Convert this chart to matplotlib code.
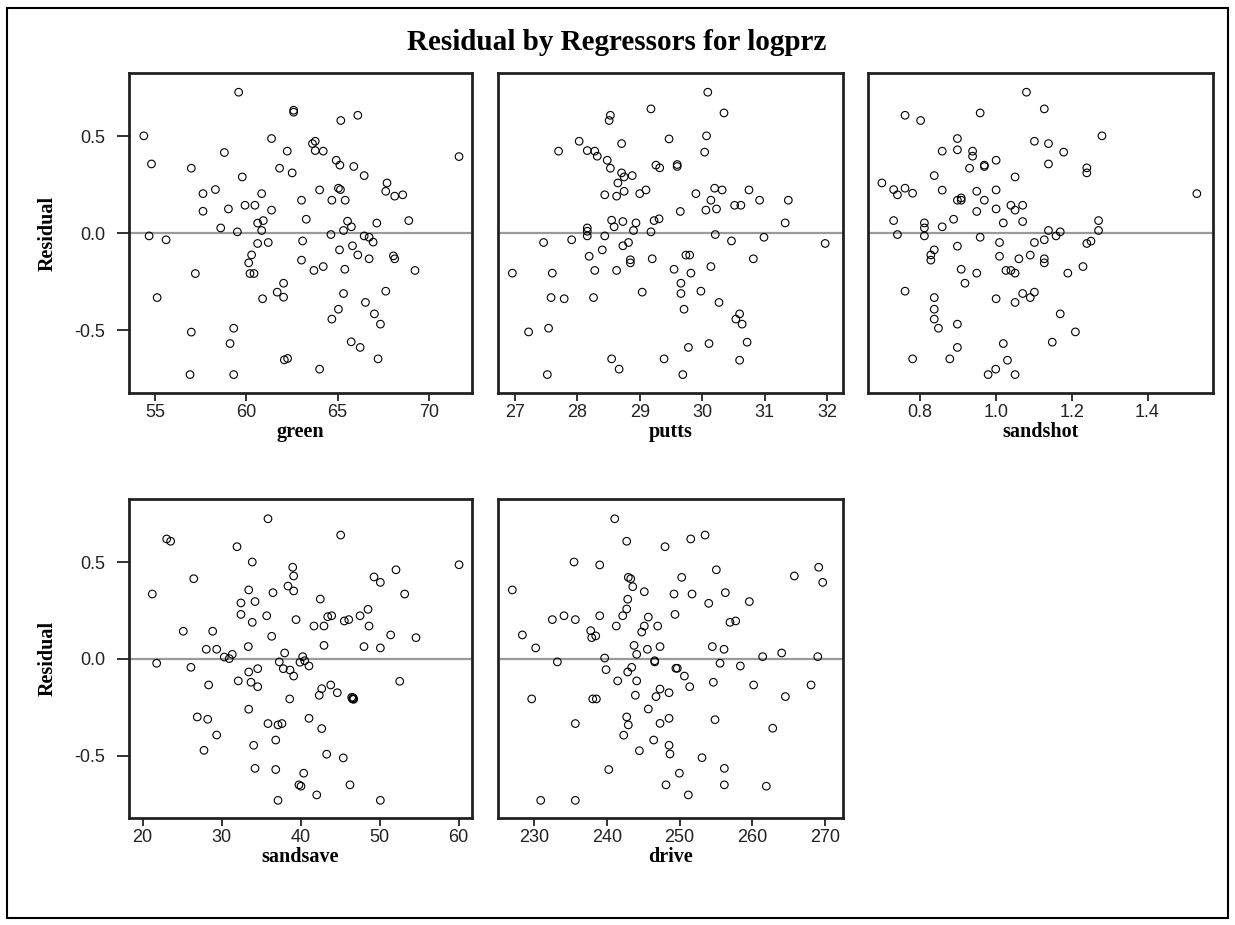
import matplotlib
matplotlib.use("Agg")
import matplotlib.pyplot as plt
from matplotlib.patches import Rectangle

plt.rcParams['axes.unicode_minus'] = False

# ---------------- data: (regressor value, residual) ----------------
title = "Residual by Regressors for logprz"

green_pts = [
    (59.58, 0.727), (62.59, 0.634), (62.59, 0.624), (54.39, 0.502), (61.38, 0.488),
    (62.24, 0.423), (58.80, 0.416), (54.81, 0.357), (56.99, 0.335), (61.82, 0.335),
    (62.51, 0.311), (59.78, 0.290), (58.31, 0.225), (57.63, 0.204), (60.84, 0.204),
    (57.63, 0.113), (59.02, 0.125), (59.93, 0.144), (60.47, 0.144), (61.38, 0.119),
    (60.62, 0.052), (60.93, 0.065), (58.60, 0.027), (59.51, 0.007), (60.84, 0.014),
    (54.68, -0.014), (55.61, -0.034), (60.62, -0.053), (61.20, -0.048), (60.29, -0.112),
    (60.13, -0.153), (60.20, -0.208), (60.42, -0.208), (57.21, -0.208), (62.04, -0.258),
    (61.69, -0.304), (62.04, -0.330), (60.89, -0.338), (55.12, -0.332), (56.99, -0.510),
    (59.31, -0.490), (59.11, -0.569), (62.08, -0.653), (62.26, -0.646), (56.92, -0.729),
    (59.31, -0.729),
    (65.17, 0.581), (66.10, 0.608), (63.62, 0.462), (63.77, 0.474), (63.77, 0.426),
    (64.21, 0.423), (64.92, 0.376), (65.12, 0.351), (65.88, 0.344), (66.45, 0.297),
    (71.64, 0.395), (67.70, 0.259), (67.63, 0.216), (68.12, 0.191), (68.56, 0.198),
    (64.01, 0.223), (65.04, 0.232), (65.15, 0.225), (63.02, 0.170), (64.68, 0.170),
    (65.41, 0.170), (63.28, 0.072), (68.89, 0.065), (67.14, 0.052), (65.54, 0.062),
    (65.75, 0.033), (65.32, 0.014), (64.63, -0.007), (66.45, -0.014), (66.72, -0.021),
    (66.94, -0.046), (63.08, -0.040), (65.10, -0.086), (65.81, -0.065), (66.10, -0.112),
    (66.72, -0.132), (68.05, -0.117), (68.12, -0.132), (63.02, -0.139), (63.70, -0.192),
    (64.21, -0.172), (65.39, -0.186), (69.23, -0.192), (65.32, -0.311), (67.63, -0.299),
    (65.04, -0.392), (64.68, -0.443), (66.52, -0.357), (67.01, -0.416), (67.34, -0.469),
    (65.74, -0.560), (66.23, -0.589), (67.21, -0.648), (64.01, -0.701),
]

putts_pts = [
    (29.18, 0.641), (28.53, 0.608), (28.51, 0.581), (28.03, 0.474), (28.71, 0.462),
    (27.70, 0.423), (28.16, 0.426), (28.28, 0.423), (28.32, 0.397), (28.48, 0.376),
    (28.53, 0.335), (29.26, 0.351), (29.32, 0.337), (28.71, 0.311), (28.75, 0.290),
    (28.88, 0.297), (28.65, 0.259), (28.75, 0.216), (28.44, 0.198), (28.63, 0.191),
    (29.00, 0.204), (29.10, 0.223), (28.55, 0.067), (28.73, 0.060), (28.94, 0.053),
    (29.23, 0.065), (29.31, 0.074), (28.59, 0.033), (28.16, 0.027), (28.16, 0.010),
    (28.16, -0.014), (28.90, 0.014), (29.18, 0.007), (28.44, -0.014), (27.46, -0.048),
    (27.91, -0.034), (28.73, -0.065), (28.82, -0.048), (28.40, -0.086), (28.19, -0.119),
    (28.85, -0.137), (28.85, -0.153), (29.20, -0.132), (26.96, -0.206), (27.60, -0.206),
    (28.28, -0.192), (28.63, -0.192), (29.04, -0.304), (27.58, -0.332), (27.79, -0.338),
    (28.26, -0.332), (27.22, -0.509), (27.54, -0.490), (28.55, -0.648), (28.67, -0.701),
    (27.52, -0.729),
    (30.09, 0.727), (30.35, 0.620), (29.47, 0.486), (30.07, 0.502), (30.04, 0.418),
    (29.60, 0.354), (29.60, 0.344), (29.90, 0.204), (30.20, 0.232), (30.32, 0.223),
    (30.75, 0.223), (30.14, 0.170), (30.92, 0.170), (31.38, 0.170), (29.65, 0.112),
    (30.06, 0.119), (30.23, 0.125), (30.52, 0.144), (30.62, 0.144), (31.33, 0.053),
    (30.21, -0.007), (30.47, -0.040), (30.99, -0.021), (31.97, -0.053), (29.74, -0.113),
    (29.80, -0.113), (30.82, -0.132), (29.55, -0.186), (29.82, -0.206), (30.14, -0.172),
    (29.66, -0.258), (29.66, -0.311), (29.98, -0.299), (29.71, -0.392), (30.27, -0.357),
    (30.60, -0.416), (30.54, -0.443), (30.64, -0.469), (29.78, -0.589), (30.11, -0.569),
    (30.72, -0.562), (29.39, -0.648), (30.60, -0.655), (29.69, -0.729),
]

sandshot_pts = [
    (1.081, 0.727), (0.761, 0.608), (0.802, 0.581), (0.959, 0.620), (0.899, 0.488),
    (0.899, 0.430), (0.859, 0.423), (0.939, 0.423), (0.939, 0.397), (1.001, 0.376),
    (0.970, 0.351), (0.970, 0.344), (0.931, 0.335), (0.838, 0.297), (1.051, 0.290),
    (0.700, 0.259), (0.731, 0.225), (0.741, 0.198), (0.761, 0.232), (0.781, 0.206),
    (0.859, 0.222), (0.899, 0.170), (0.909, 0.182), (0.909, 0.170), (0.950, 0.216),
    (1.001, 0.223), (0.970, 0.170), (0.950, 0.112), (1.001, 0.125), (1.040, 0.144),
    (1.051, 0.119), (1.071, 0.144), (0.731, 0.065), (0.812, 0.053), (0.812, 0.027),
    (0.812, -0.014), (0.859, 0.033), (0.889, 0.072), (1.020, 0.053), (1.071, 0.060),
    (0.741, -0.007), (0.959, -0.021), (1.010, -0.048), (0.899, -0.067), (0.838, -0.086),
    (0.829, -0.112), (0.829, -0.139), (1.010, -0.119), (1.061, -0.132), (1.091, -0.113),
    (0.909, -0.186), (0.950, -0.206), (1.027, -0.192), (1.040, -0.192), (1.051, -0.206),
    (0.919, -0.258), (0.761, -0.299), (0.838, -0.332), (0.838, -0.392), (0.838, -0.443),
    (0.849, -0.490), (1.001, -0.338), (1.051, -0.357), (1.071, -0.311), (1.091, -0.332),
    (0.899, -0.469), (0.899, -0.589), (0.781, -0.648), (0.879, -0.648), (1.020, -0.569),
    (1.031, -0.655), (0.980, -0.729), (1.000, -0.701), (1.051, -0.729),
    (1.128, 0.641), (1.102, 0.474), (1.139, 0.462), (1.280, 0.502), (1.179, 0.418),
    (1.139, 0.357), (1.240, 0.337), (1.240, 0.311), (1.530, 0.204), (1.271, 0.065),
    (1.271, 0.014), (1.139, 0.014), (1.159, -0.014), (1.170, 0.007), (1.102, -0.048),
    (1.128, -0.034), (1.240, -0.053), (1.251, -0.041), (1.128, -0.132), (1.128, -0.153),
    (1.190, -0.206), (1.230, -0.172), (1.102, -0.304), (1.170, -0.416), (1.210, -0.509),
    (1.149, -0.562),
]

sandsave_pts = [
    (35.86, 0.723), (23.04, 0.619), (23.54, 0.607), (31.94, 0.579), (33.87, 0.500),
    (26.46, 0.414), (21.22, 0.335), (33.42, 0.356), (36.49, 0.342), (32.44, 0.289),
    (34.22, 0.296), (32.44, 0.230), (33.87, 0.189), (35.70, 0.223), (38.39, 0.376),
    (25.14, 0.143), (28.86, 0.143), (36.33, 0.117), (28.05, 0.050), (29.37, 0.050),
    (33.37, 0.064), (30.33, 0.010), (30.96, 0.002), (31.34, 0.024), (37.97, 0.031),
    (21.77, -0.022), (26.11, -0.043), (37.29, -0.015), (37.80, -0.050), (38.65, -0.057),
    (33.42, -0.067), (34.56, -0.050), (32.10, -0.113), (33.71, -0.120), (34.56, -0.143),
    (28.35, -0.134), (38.61, -0.206), (33.42, -0.259), (26.91, -0.299), (28.23, -0.311),
    (35.86, -0.333), (37.13, -0.340), (37.63, -0.333), (29.37, -0.392), (34.05, -0.445),
    (36.84, -0.418), (27.76, -0.471), (34.22, -0.564), (36.84, -0.570), (37.13, -0.729),
    (38.99, 0.473), (39.11, 0.428), (39.11, 0.351), (39.41, 0.203), (39.11, -0.088),
    (45.06, 0.639), (60.04, 0.486), (52.06, 0.460), (49.28, 0.423), (50.08, 0.395),
    (53.16, 0.335), (42.48, 0.309), (43.42, 0.218), (43.92, 0.223), (41.68, 0.170),
    (42.95, 0.170), (45.52, 0.196), (46.08, 0.203), (47.51, 0.223), (48.52, 0.256),
    (48.65, 0.170), (51.39, 0.124), (54.59, 0.110), (42.95, 0.070), (48.01, 0.064),
    (50.08, 0.057), (40.25, 0.012), (39.91, -0.017), (40.51, -0.009), (41.05, -0.036),
    (52.53, -0.115), (42.66, -0.153), (42.35, -0.187), (43.80, -0.134), (44.63, -0.174),
    (46.45, -0.198), (46.55, -0.206), (46.65, -0.200), (46.70, -0.208), (41.05, -0.306),
    (42.66, -0.359), (43.29, -0.491), (45.39, -0.510), (40.38, -0.589), (39.78, -0.649),
    (40.04, -0.656), (42.03, -0.701), (46.24, -0.649), (50.08, -0.729),
]

drive_pts = [
    (241.09, 0.723), (242.74, 0.607), (235.50, 0.500), (239.03, 0.485), (227.02, 0.356),
    (242.96, 0.421), (243.29, 0.414), (243.57, 0.373), (245.16, 0.347), (242.88, 0.308),
    (242.74, 0.258), (232.52, 0.203), (234.12, 0.223), (235.68, 0.203), (239.03, 0.223),
    (242.19, 0.223), (245.71, 0.216), (241.31, 0.170), (245.16, 0.170), (244.80, 0.139),
    (247.00, 0.170), (228.40, 0.124), (237.79, 0.146), (237.93, 0.110), (238.48, 0.119),
    (230.23, 0.057), (243.75, 0.070), (244.11, 0.024), (245.58, 0.050), (247.32, 0.064),
    (233.21, -0.015), (239.71, 0.005), (239.90, -0.055), (246.59, -0.009), (246.59, -0.015),
    (242.88, -0.067), (243.43, -0.043), (241.50, -0.113), (244.11, -0.113), (243.93, -0.187),
    (229.68, -0.206), (238.07, -0.206), (238.57, -0.206), (246.77, -0.194), (247.32, -0.155),
    (245.71, -0.258), (235.68, -0.333), (242.74, -0.299), (242.96, -0.340), (242.33, -0.393),
    (247.32, -0.332), (246.45, -0.418), (244.48, -0.473), (240.27, -0.570), (230.92, -0.729),
    (235.68, -0.729),
    (248.01, 0.579), (251.54, 0.619), (253.51, 0.639), (255.06, 0.460), (250.30, 0.421),
    (265.78, 0.428), (269.13, 0.473), (269.68, 0.395), (249.24, 0.335), (251.72, 0.335),
    (254.01, 0.287), (256.30, 0.342), (259.60, 0.296), (249.38, 0.230), (256.94, 0.189),
    (257.72, 0.196), (254.51, 0.064), (256.12, 0.050), (261.43, 0.012), (264.04, 0.031),
    (269.00, 0.012), (249.50, -0.048), (249.70, -0.048), (250.67, -0.088), (251.40, -0.143),
    (255.57, -0.022), (258.36, -0.036), (254.65, -0.120), (260.19, -0.134), (268.08, -0.134),
    (264.55, -0.194), (248.56, -0.174), (248.56, -0.306), (254.88, -0.313), (262.81, -0.357),
    (248.56, -0.445), (248.69, -0.490), (253.09, -0.509), (256.16, -0.564), (249.98, -0.589),
    (248.14, -0.649), (256.16, -0.649), (261.93, -0.656), (251.21, -0.701),
]

green_ticks = [55, 60, 65, 70]
putts_ticks = [27, 28, 29, 30, 31, 32]
sandshot_ticks = [0.8, 1.0, 1.2, 1.4]
sandshot_ticklabels = ["0.8", "1.0", "1.2", "1.4"]
sandsave_ticks = [20, 30, 40, 50, 60]
drive_ticks = [230, 240, 250, 260, 270]
resid_ticks = [-0.5, 0.0, 0.5]
resid_ticklabels = ["-0.5", "0.0", "0.5"]

# ---------------- layout (pixels) ----------------
W, H = 1235, 925
fig = plt.figure(figsize=(W / 100, H / 100), dpi=100)
fig.patch.set_facecolor("white")

SERIF = ["Liberation Serif", "DejaVu Serif"]
TICKFONT = ["Liberation Sans Narrow", "Liberation Sans", "DejaVu Sans"]

def add_ax(x0, y0, x1, y1):
    return fig.add_axes([x0 / W, 1 - y1 / H, (x1 - x0) / W, (y1 - y0) / H])

panels = [
    ("green", green_pts, (129, 73, 472, 393), (53.58, 72.35), green_ticks, None, (-0.824, 0.826), True),
    ("putts", putts_pts, (498, 73, 843, 393), (26.73, 32.256), putts_ticks, None, (-0.824, 0.826), False),
    ("sandshot", sandshot_pts, (868, 73, 1213, 393), (0.6634, 1.5726), sandshot_ticks, sandshot_ticklabels, (-0.824, 0.826), False),
    ("sandsave", sandsave_pts, (129, 499, 472, 818), (18.27, 61.68), sandsave_ticks, None, (-0.820, 0.825), True),
    ("drive", drive_pts, (498, 499, 843, 818), (225.05, 272.47), drive_ticks, None, (-0.820, 0.825), False),
]

for name, pts, box, xlim, xt, xtl, ylim, show_y in panels:
    ax = add_ax(*box)
    xs = [p[0] for p in pts]
    ys = [p[1] for p in pts]
    ax.axhline(0, color="#9a9a9a", lw=1.6, zorder=1)
    ax.scatter(xs, ys, s=30, facecolors="none", edgecolors="black", linewidths=0.8, zorder=3)
    ax.set_xlim(*xlim)
    ax.set_ylim(*ylim)
    ax.set_xticks(xt)
    if xtl is not None:
        ax.set_xticklabels(xtl)
    else:
        ax.set_xticklabels([str(v) for v in xt])
    for sp in ax.spines.values():
        sp.set_linewidth(2.0)
        sp.set_color("#222222")
    ax.tick_params(axis="x", direction="out", length=6, width=1.3, pad=2,
                   labelsize=13, colors="#222222")
    for lab in ax.get_xticklabels():
        lab.set_family(TICKFONT)
    if show_y:
        ax.set_yticks(resid_ticks)
        ax.set_yticklabels(resid_ticklabels)
        ax.tick_params(axis="y", direction="out", length=9, width=1.3, pad=8,
                       labelsize=13, colors="#222222")
        for lab in ax.get_yticklabels():
            lab.set_family(TICKFONT)
        yc = (box[1] + box[3]) / 2
        fig.text(48 / W, 1 - yc / H, "Residual", rotation=90, ha="center", va="center",
                 fontsize=14.5, fontweight="bold", family=SERIF)
    else:
        ax.set_yticks([])
    xc = (box[0] + box[2]) / 2
    fig.text(xc / W, 1 - (box[3] + 39) / H, name, ha="center", va="center",
             fontsize=14.5, fontweight="bold", family=SERIF)

fig.text(617 / W, 1 - 42 / H, title, ha="center", va="center",
         fontsize=21, fontweight="bold", family=SERIF)

# outer frame
fig.patches.append(Rectangle((7 / W, 1 - 918 / H), (1228 - 7) / W, (918 - 8) / H,
                             transform=fig.transFigure, fill=False, lw=1.5,
                             edgecolor="black"))

fig.savefig("out.png", dpi=100)
